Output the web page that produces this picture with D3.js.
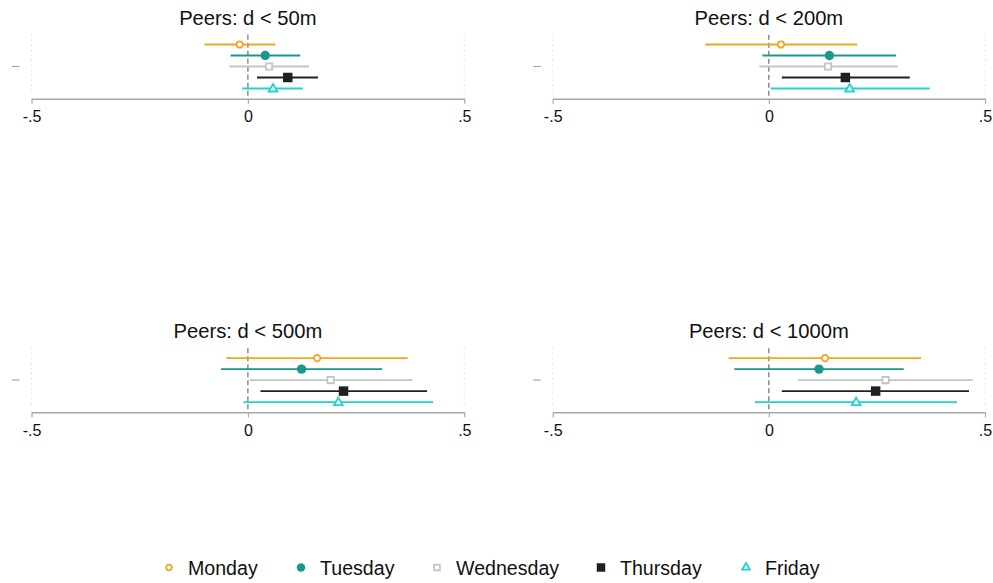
<!DOCTYPE html>
<html>
<head>
<meta charset="utf-8">
<script src="https://cdn.jsdelivr.net/npm/d3@7"></script>
<style>
  html, body { margin: 0; padding: 0; background: #fff; }
  svg { display: block; font-family: "Liberation Sans", Arial, sans-serif; }
</style>
</head>
<body>
<svg id="chart" width="993" height="583"></svg>
<script>
// Peer-effect estimates by weekday, one panel per distance band
const panels = ["Peers: d < 50m", "Peers: d < 200m", "Peers: d < 500m", "Peers: d < 1000m"];
const days = ["Monday", "Tuesday", "Wednesday", "Thursday", "Friday"];
const xTicks = [-0.5, 0, 0.5];
const xTickLabels = ["-.5", "0", ".5"];

// point estimates, rows = panels, columns = days
const estimate = [
  [-0.019, 0.040, 0.049, 0.092, 0.058],
  [0.028, 0.140, 0.137, 0.177, 0.187],
  [0.160, 0.124, 0.191, 0.221, 0.209],
  [0.130, 0.116, 0.270, 0.247, 0.202]
];
// confidence interval bounds
const lower = [
  [-0.100, -0.040, -0.043, 0.021, -0.013],
  [-0.147, -0.015, -0.022, 0.030, 0.005],
  [-0.050, -0.062, 0.004, 0.029, -0.010],
  [-0.093, -0.080, 0.067, 0.030, -0.032]
];
const upper = [
  [0.063, 0.121, 0.141, 0.162, 0.127],
  [0.204, 0.294, 0.298, 0.326, 0.372],
  [0.369, 0.310, 0.380, 0.414, 0.428],
  [0.352, 0.312, 0.472, 0.463, 0.435]
];

const colors = ["#f7a21b", "#1a998b", "#c4c4c4", "#202020", "#1fd3d3"];
const symbols = [
  { type: d3.symbolCircle, size: 32, fill: false },
  { type: d3.symbolCircle, size: 70, fill: true },
  { type: d3.symbolSquare, size: 40, fill: false },
  { type: d3.symbolSquare, size: 90, fill: true },
  { type: d3.symbolTriangle, size: 32, fill: false }
];

const svg = d3.select("#chart");

// panel geometry: [left, right] of x range and y of axis line
const layout = [
  { x0: 31.5, x1: 464.3, axisY: 98.7 },
  { x0: 552.7, x1: 985, axisY: 98.7 },
  { x0: 31.5, x1: 464.3, axisY: 412.3 },
  { x0: 552.7, x1: 985, axisY: 412.3 }
];

panels.forEach((title, p) => {
  const L = layout[p];
  const g = svg.append("g");
  const x = d3.scaleLinear().domain([-0.5, 0.5]).range([L.x0, L.x1]);
  const y = d3.scalePoint().domain(days).range([L.axisY - 54.2, L.axisY - 10.2]);

  // title
  g.append("text")
    .attr("x", x(0)).attr("y", L.axisY - 74)
    .attr("text-anchor", "middle")
    .attr("font-size", 20.2).attr("fill", "#111")
    .text(title);

  // dotted gridlines at the outer ticks
  [-0.5, 0.5].forEach(v => {
    g.append("line")
      .attr("x1", x(v)).attr("x2", x(v))
      .attr("y1", L.axisY - 64).attr("y2", L.axisY - 4)
      .attr("stroke", "#cfcfcf").attr("stroke-width", 1)
      .attr("stroke-dasharray", "1,4");
  });

  // zero reference line
  g.append("line")
    .attr("x1", x(0)).attr("x2", x(0))
    .attr("y1", L.axisY - 64).attr("y2", L.axisY)
    .attr("stroke", "#6e6e6e").attr("stroke-width", 1.2)
    .attr("stroke-dasharray", "5,3");

  // lone y tick at the middle row
  g.append("line")
    .attr("x1", L.x0 - 19.5).attr("x2", L.x0 - 12)
    .attr("y1", y(days[2])).attr("y2", y(days[2]))
    .attr("stroke", "#a8a8a8").attr("stroke-width", 1.2);

  // x axis
  const axis = d3.axisBottom(x).tickValues(xTicks)
    .tickFormat((d, i) => xTickLabels[i]).tickSize(5).tickSizeOuter(0);
  const ax = g.append("g").attr("transform", `translate(0,${L.axisY})`).call(axis);
  ax.attr("font-size", null).attr("font-family", null);
  ax.select(".domain").attr("stroke", "#a8a8a8").attr("stroke-width", 1.4);
  ax.selectAll(".tick line").attr("stroke", "#a8a8a8").attr("stroke-width", 1.2);
  ax.selectAll(".tick text")
    .style("font-size", "16px").attr("fill", "#111")
    .attr("y", 11).attr("dy", "0.8em");

  // confidence intervals and point estimates
  days.forEach((day, i) => {
    g.append("line")
      .attr("x1", x(lower[p][i])).attr("x2", x(upper[p][i]))
      .attr("y1", y(day)).attr("y2", y(day))
      .attr("stroke", colors[i]).attr("stroke-width", 1.8);
    const s = symbols[i];
    g.append("path")
      .attr("d", d3.symbol(s.type, s.size)())
      .attr("transform", `translate(${x(estimate[p][i])},${y(day) + (s.type === d3.symbolTriangle ? 0.5 : 0)})`)
      .attr("fill", s.fill ? colors[i] : "#fff")
      .attr("stroke", colors[i]).attr("stroke-width", s.fill ? 0 : 1.8);
  });
});

// legend
const legendX = [169, 301, 437, 601, 746];
const legend = svg.append("g");
days.forEach((day, i) => {
  const s = symbols[i];
  legend.append("path")
    .attr("d", d3.symbol(s.type, s.size * 0.8)())
    .attr("transform", `translate(${legendX[i]},${567.5})`)
    .attr("fill", s.fill ? colors[i] : "#fff")
    .attr("stroke", colors[i]).attr("stroke-width", s.fill ? 0 : 1.8);
  legend.append("text")
    .attr("x", legendX[i] + 19).attr("y", 568)
    .attr("dy", "0.35em")
    .attr("font-size", 19.6).attr("fill", "#111")
    .text(day);
});
</script>
</body>
</html>
